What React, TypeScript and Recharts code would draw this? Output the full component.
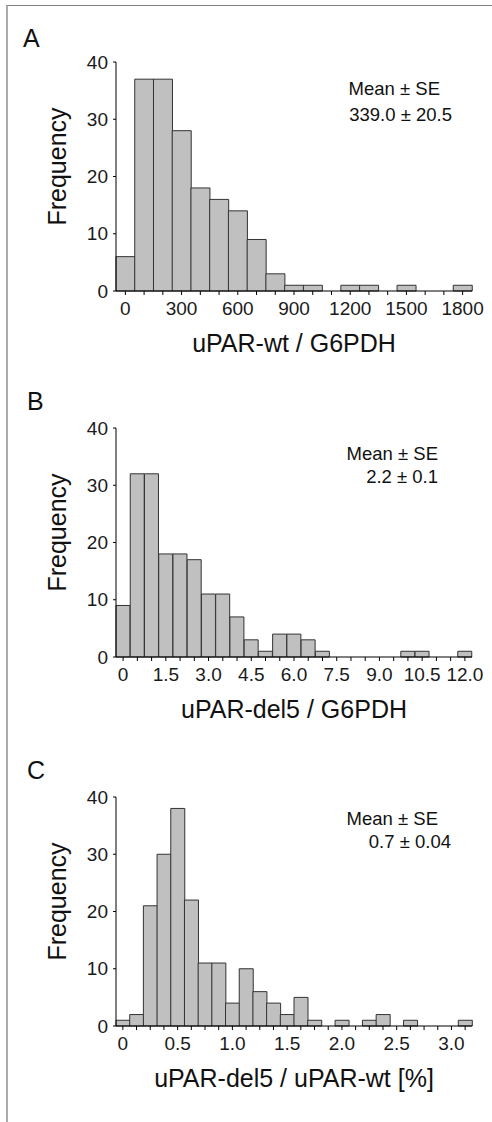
import React from 'react';
import { BarChart, Bar, XAxis, YAxis } from 'recharts';

// panel A: uPAR-wt / G6PDH, bins of 100
const wtBins = ['0', '100', '200', '300', '400', '500', '600', '700', '800', '900', '1000', '1100', '1200', '1300', '1400', '1500', '1600', '1700', '1800'];
const wtCounts = [6, 37, 37, 28, 18, 16, 14, 9, 3, 1, 1, 0, 1, 1, 0, 1, 0, 0, 1];
const wtTicks = ['0', '300', '600', '900', '1200', '1500', '1800'];

// panel B: uPAR-del5 / G6PDH, bins of 0.5
const delBins = ['0', '0.5', '1.0', '1.5', '2.0', '2.5', '3.0', '3.5', '4.0', '4.5', '5.0', '5.5', '6.0', '6.5', '7.0', '7.5', '8.0', '8.5', '9.0', '9.5', '10.0', '10.5', '11.0', '11.5', '12.0'];
const delCounts = [9, 32, 32, 18, 18, 17, 11, 11, 7, 3, 1, 4, 4, 3, 1, 0, 0, 0, 0, 0, 1, 1, 0, 0, 1];
const delTicks = ['0', '1.5', '3.0', '4.5', '6.0', '7.5', '9.0', '10.5', '12.0'];

// panel C: uPAR-del5 / uPAR-wt [%], bins of 0.125
const ratioBins = ['0', '0.125', '0.25', '0.375', '0.5', '0.625', '0.75', '0.875', '1.0', '1.125', '1.25', '1.375', '1.5', '1.625', '1.75', '1.875', '2.0', '2.125', '2.25', '2.375', '2.5', '2.625', '2.75', '2.875', '3.0', '3.125'];
const ratioCounts = [1, 2, 21, 30, 38, 22, 11, 11, 4, 10, 6, 4, 2, 5, 1, 0, 1, 0, 1, 2, 0, 1, 0, 0, 0, 1];
const ratioTicks = ['0', '0.5', '1.0', '1.5', '2.0', '2.5', '3.0'];

const freqTicks = [0, 10, 20, 30, 40];

const FONT = '"Liberation Sans", Arial, sans-serif';

const makeTick = (shown: string[]) => ({ x, y, payload }: any) => {
  if (!shown.includes(payload.value)) return <g />;
  return (
    <text x={x} y={y} dy="0.71em" textAnchor="middle" fontSize={19} fill="#1a1a1a" fontFamily={FONT}>
      {payload.value}
    </text>
  );
};

const FreqLabel = ({ viewBox }: any) => {
  if (!viewBox) return null;
  const cx = viewBox.x + viewBox.width / 2 - 1;
  const cy = viewBox.y + viewBox.height / 2 - 10;
  return (
    <text x={cx} y={cy} transform={`rotate(-90 ${cx} ${cy})`} textAnchor="middle" dominantBaseline="central" fontSize={25} fill="#111" fontFamily={FONT}>
      Frequency
    </text>
  );
};

interface PanelProps {
  bins: string[];
  counts: number[];
  ticks: string[];
  title: string;
}

const Histogram: React.FC<PanelProps> = ({ bins, counts, ticks, title }) => {
  const data = bins.map((b, i) => ({ bin: b, n: counts[i] }));
  return (
    <BarChart width={492} height={366} data={data} margin={{ top: 62, right: 20, bottom: 0, left: 0 }} barCategoryGap={0} barGap={0}>
      <XAxis
        dataKey="bin"
        interval={0}
        height={75}
        tickSize={4}
        tickMargin={7}
        tick={makeTick(ticks)}
        axisLine={{ stroke: '#000' }}
        tickLine={{ stroke: '#000' }}
        label={{ value: title, position: 'insideBottom', offset: 14, fontSize: 25, fill: '#111', fontFamily: FONT }}
      />
      <XAxis xAxisId="top" dataKey="bin" orientation="top" height={0} tick={false} tickLine={false} axisLine={{ stroke: '#a8a8a8' }} />
      <YAxis
        domain={[0, 40]}
        ticks={freqTicks}
        width={116}
        tickSize={3}
        tickMargin={5}
        axisLine={{ stroke: '#000' }}
        tickLine={{ stroke: '#000' }}
        tick={{ fontSize: 19, fill: '#1a1a1a', fontFamily: FONT }}
        label={{ content: <FreqLabel /> }}
      />
      <YAxis yAxisId="right" orientation="right" domain={[0, 40]} width={0} tick={false} tickLine={false} axisLine={{ stroke: '#555' }} />
      <Bar dataKey="n" fill="#c0c0c0" stroke="#333" strokeWidth={1} isAnimationActive={false} />
    </BarChart>
  );
};

export default function App() {
  const txt = { fontFamily: FONT, fill: '#111' };
  return (
    <div style={{ position: 'absolute', left: 0, top: 0, width: 492, height: 1122, background: '#fff' }}>
      <div style={{ position: 'absolute', left: 0, top: 0 }}>
        <Histogram bins={wtBins} counts={wtCounts} ticks={wtTicks} title="uPAR-wt / G6PDH" />
      </div>
      <div style={{ position: 'absolute', left: 0, top: 366 }}>
        <Histogram bins={delBins} counts={delCounts} ticks={delTicks} title="uPAR-del5 / G6PDH" />
      </div>
      <div style={{ position: 'absolute', left: 0, top: 735 }}>
        <Histogram bins={ratioBins} counts={ratioCounts} ticks={ratioTicks} title="uPAR-del5 / uPAR-wt [%]" />
      </div>
      <svg width={492} height={1122} style={{ position: 'absolute', left: 0, top: 0, pointerEvents: 'none' }}>
        <line x1={7} y1={5.5} x2={492} y2={5.5} stroke="#808080" strokeWidth={1.2} />
        <line x1={7} y1={5} x2={7} y2={1122} stroke="#909090" strokeWidth={1.5} />
        <text x={23} y={47} fontSize={25} {...txt}>A</text>
        <text x={27} y={410} fontSize={25} {...txt}>B</text>
        <text x={27} y={779} fontSize={25} {...txt}>C</text>
        <text x={440} y={95} fontSize={18.5} textAnchor="end" {...txt}>Mean ± SE</text>
        <text x={452} y={121} fontSize={18.5} textAnchor="end" {...txt}>339.0 ± 20.5</text>
        <text x={438} y={460} fontSize={18.5} textAnchor="end" {...txt}>Mean ± SE</text>
        <text x={438} y={483} fontSize={18.5} textAnchor="end" {...txt}>2.2 ± 0.1</text>
        <text x={438} y={825} fontSize={18.5} textAnchor="end" {...txt}>Mean ± SE</text>
        <text x={451} y={848} fontSize={18.5} textAnchor="end" {...txt}>0.7 ± 0.04</text>
      </svg>
    </div>
  );
}
